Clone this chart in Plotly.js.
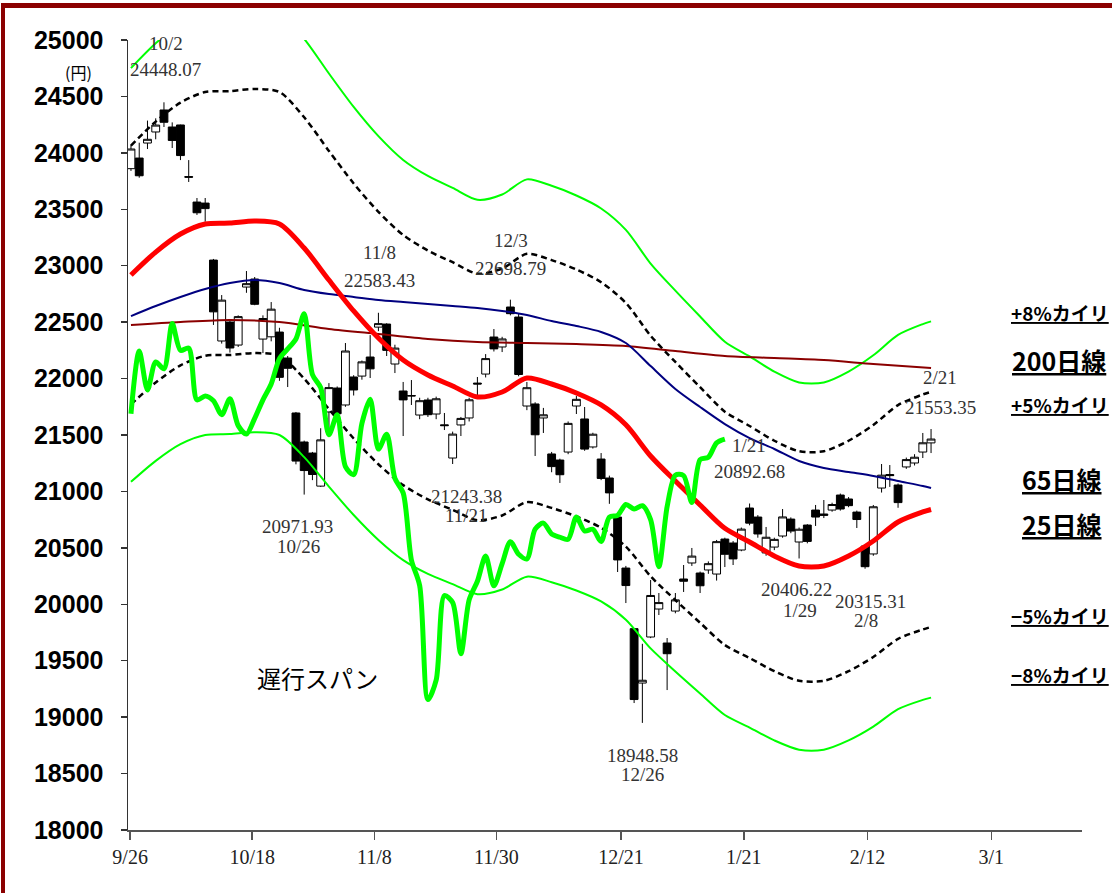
<!DOCTYPE html>
<html>
<head>
<meta charset="utf-8">
<script src="https://cdn.plot.ly/plotly-3.0.1.min.js"></script>
<style>
  html, body { margin: 0; padding: 0; background: #fff; }
  #chart { width: 1112px; height: 893px; }
</style>
</head>
<body>
<div id="chart"></div>
<script>
// ---- Data ----
const dates = ['9/26','9/27','9/28','10/1','10/2','10/3','10/4','10/5','10/9','10/10',
  '10/11','10/12','10/15','10/16','10/17','10/18','10/19','10/22','10/23','10/24',
  '10/25','10/26','10/29','10/30','10/31','11/1','11/2','11/5','11/6','11/7',
  '11/8','11/9','11/12','11/13','11/14','11/15','11/16','11/19','11/20','11/21',
  '11/22','11/26','11/27','11/28','11/29','11/30','12/3','12/4','12/5','12/6',
  '12/7','12/10','12/11','12/12','12/13','12/14','12/17','12/18','12/19','12/20',
  '12/21','12/25','12/26','12/27','12/28','1/4','1/7','1/8','1/9','1/10',
  '1/11','1/15','1/16','1/17','1/18','1/21','1/22','1/23','1/24','1/25',
  '1/28','1/29','1/30','1/31','2/1','2/4','2/5','2/6','2/7','2/8',
  '2/12','2/13','2/14','2/15','2/18','2/19','2/20','2/21'];

const openP = [23860,23954,24087,24185,24380,24229,24247,23790,23564,23555,
  23050,22333,22501,22297,22811,22882,22350,22370,22412,22182,
  21695,21438,21340,21047,21704,21916,21766,22014,22022,22191,
  22456,22483,22129,21890,21850,21677,21810,21686,21590,21296,
  21589,21651,21960,22040,22368,22280,22634,22545,21757,21775,
  21651,21332,21278,21349,21757,21642,21394,21287,21119,20773,
  20321,19784,19302,19710,19958,19657,19940,20224,20366,20277,
  20304,20268,20578,20543,20481,20853,20773,20455,20507,20605,
  20755,20552,20702,20835,20800,20835,20968,20933,20817,20516,
  20446,21030,21150,21057,21217,21252,21349,21430];

const highP = [24070,24090,24286,24306,24448,24270,24250,23936,23600,23600,
  23060,22740,22510,22560,22953,22900,22560,22678,22450,22200,
  21704,21450,21350,21560,21960,21930,22315,22030,22160,22385,
  22583,22490,22300,21970,21987,21830,21830,21840,21695,21530,
  21660,21830,22014,22217,22439,22370,22699,22580,21970,21790,
  21740,21350,21290,21620,21845,21748,21520,21340,21140,20780,
  20340,19790,19650,20215,20100,19701,20100,20348,20499,20290,
  20380,20570,20590,20560,20680,20893,20790,20685,20590,20844,
  20770,20680,20710,20880,20924,20900,20981,20950,20830,20530,
  20880,21243,21234,21070,21300,21330,21518,21553];

const lowP = [23840,23780,24034,24120,24229,24043,23936,23742,23450,23390,
  22475,22310,22230,22280,22760,22650,22226,22330,21980,21925,
  21240,20972,21100,21040,21560,21640,21750,21850,21990,22005,
  22420,22200,22049,21491,21766,21640,21660,21640,21544,21243,
  21491,21620,21837,22010,22240,22235,22560,22020,21720,21314,
  21518,21170,21075,21330,21686,21360,21380,21100,20890,20286,
  20011,19125,18949,19700,19905,19240,19920,20109,20340,20100,
  20270,20210,20330,20348,20470,20700,20590,20430,20480,20590,
  20630,20406,20540,20694,20764,20820,20830,20860,20676,20315,
  20430,20990,21040,20855,21200,21230,21296,21340];

const closeP = [24034,23797,24120,24246,24271,24110,23976,23784,23469,23506,
  22591,22695,22271,22549,22841,22658,22532,22615,22011,22091,
  21269,21185,21150,21457,21920,21688,22244,21899,22148,22086,
  22487,22250,22270,21811,21846,21804,21680,21821,21583,21508,
  21647,21812,21952,22177,22263,22351,22575,22036,21919,21502,
  21679,21220,21148,21603,21816,21375,21507,21115,20987,20393,
  20166,19156,19327,20078,20015,19562,20039,20204,20427,20164,
  20360,20555,20443,20402,20666,20719,20623,20594,20575,20774,
  20649,20665,20557,20773,20788,20884,20844,20874,20751,20333,
  20864,21144,21140,20901,21282,21303,21431,21464];

// moving averages, sampled at these day indices
const maIdx = [0,3,6,9,12,15,18,21,24,27,30,33,36,39,42,45,48,51,54,57,60,63,66,69,72,75,78,81,84,87,90,93,96,97];
const ma25 = [22918,23121,23281,23370,23378,23396,23370,23157,22873,22599,22359,22164,22032,21934,21837,21881,22005,21952,21872,21766,21590,21314,21092,20880,20673,20552,20428,20339,20339,20428,20561,20729,20818,20840];
const ma65 = [22554,22643,22723,22794,22847,22873,22847,22785,22749,22723,22696,22678,22661,22643,22625,22599,22563,22510,22466,22413,22315,22111,21908,21748,21597,21473,21376,21270,21208,21172,21137,21092,21048,21030];
const up5 = [24064,24277,24445,24539,24547,24566,24539,24315,24017,23729,23477,23272,23134,23031,22929,22975,23105,23050,22966,22854,22670,22380,22147,21924,21707,21580,21449,21356,21356,21449,21589,21765,21859,21882];
const dn5 = [21772,21965,22117,22202,22209,22226,22202,21999,21729,21469,21241,21056,20930,20837,20745,20787,20905,20854,20778,20678,20511,20248,20037,19836,19639,19524,19407,19322,19322,19407,19533,19693,19777,19798];
const up8 = [24751,24971,25143,25240,25248,25268,25240,25010,24703,24407,24148,23937,23795,23689,23584,23631,23765,23708,23622,23507,23317,23019,22779,22550,22327,22196,22062,21966,21966,22062,22206,22387,22483,22507];
const dn8 = [21085,21271,21419,21500,21508,21524,21500,21304,21043,20791,20570,20391,20269,20179,20090,20131,20245,20196,20122,20025,19863,19609,19405,19210,19019,18908,18794,18712,18712,18794,18916,19071,19153,19173];
const ma200Idx = [0,6,12,18,24,30,36,42,48,54,60,66,72,78,84,90,97];
const ma200 = [22475,22501,22519,22501,22439,22395,22351,22324,22315,22306,22289,22244,22200,22182,22164,22129,22094];

const lagShift = 25; // 遅行スパン: close plotted 25 days back

const xTickLabels = ['9/26','10/18','11/8','11/30','12/21','1/21','2/12','3/1'];
const yTicks = [18000,18500,19000,19500,20000,20500,21000,21500,22000,22500,23000,23500,24000,24500,25000];

// ---- Build traces ----
const dayIdx = dates.map((d, i) => i);

const traces = [];
traces.push({
  type: 'candlestick', x: dayIdx, open: openP, high: highP, low: lowP, close: closeP,
  increasing: { line: { color: '#000', width: 1 }, fillcolor: '#fff' },
  decreasing: { line: { color: '#000', width: 1 }, fillcolor: '#000' },
  whiskerwidth: 0, hoverinfo: 'skip', showlegend: false
});
function line(x, y, color, width, dash) {
  return { type: 'scatter', mode: 'lines', x: x, y: y, hoverinfo: 'skip', showlegend: false,
    line: { color: color, width: width, dash: dash || 'solid', shape: 'spline', smoothing: 0.8 } };
}
traces.push(line(maIdx, up8, '#00FF00', 2));
traces.push(line(maIdx, dn8, '#00FF00', 2));
traces.push(line(maIdx, up5, '#000000', 2.5, '6px,4px'));
traces.push(line(maIdx, dn5, '#000000', 2.5, '6px,4px'));
traces.push(line(ma200Idx, ma200, '#8B0000', 2));
traces.push(line(maIdx, ma65, '#000080', 2));
traces.push(line(maIdx, ma25, '#FF0000', 5));
traces.push(line(dayIdx.slice(0, closeP.length - lagShift), closeP.slice(lagShift), '#00FF00', 5));

// ---- Layout helpers (pixel -> paper) ----
const L = 128, R = 1082, T = 40, B = 830;
const px = x => (x - L) / (R - L);
const py = y => (B - y) / (B - T);

const serif = { family: 'Liberation Serif, DejaVu Serif, serif', size: 19, color: '#333' };
function note(text, x, y, font) {
  return { text: text, xref: 'paper', yref: 'paper', x: px(x), y: py(y),
    xanchor: 'center', yanchor: 'middle', showarrow: false, font: font || serif };
}
const labFont = { family: 'Noto Sans CJK JP, sans-serif', size: 19, color: '#000', weight: 'bold' };
const labFont2 = { family: 'Noto Sans CJK JP, sans-serif', size: 25, color: '#000', weight: 'bold' };

const annotations = [
  note('10/2', 166, 43), note('24448.07', 165, 70),
  note('11/8', 379, 252), note('22583.43', 379, 280),
  note('12/3', 511, 240), note('22698.79', 510, 268),
  note('20971.93', 297, 526), note('10/26', 298, 546),
  note('21243.38', 466, 496), note('11/21', 466, 515),
  note('18948.58', 642, 755), note('12/26', 642, 774),
  note('1/21', 749, 445), note('20892.68', 749, 471),
  note('20406.22', 796, 589), note('1/29', 800, 610),
  note('20315.31', 870, 601), note('2/8', 866, 620),
  note('2/21', 940, 378), note('21553.35', 940, 407),
  note('遅行スパン', 317, 677, { family: 'Noto Sans CJK JP, sans-serif', size: 24, color: '#000' }),
  note('(円)', 78, 72, { family: 'Noto Sans CJK JP, sans-serif', size: 16, color: '#000' }),
  note('<u>+8%カイリ</u>', 1060, 313, labFont),
  note('<u>200日線</u>', 1059, 360, labFont2),
  note('<u>+5%カイリ</u>', 1060, 404, labFont),
  note('<u>65日線</u>', 1062, 479, labFont2),
  note('<u>25日線</u>', 1062, 524, labFont2),
  note('<u>−5%カイリ</u>', 1060, 615, labFont),
  note('<u>−8%カイリ</u>', 1060, 674, labFont)
];

const frame = '#8B0000';
const shapes = [
  { type: 'rect', xref: 'paper', yref: 'paper', x0: px(1), x1: px(5), y0: py(893), y1: py(3),
    fillcolor: frame, line: { width: 0 } },
  { type: 'rect', xref: 'paper', yref: 'paper', x0: px(1), x1: px(1112), y0: py(8), y1: py(3),
    fillcolor: frame, line: { width: 0 } }
];

const layout = {
  width: 1112, height: 893,
  margin: { l: L, r: 1112 - R, t: T, b: 893 - B },
  paper_bgcolor: '#fff', plot_bgcolor: '#fff',
  showlegend: false, hovermode: false, boxgap: 0.05, boxgroupgap: 0,
  xaxis: {
    type: 'linear', range: [-0.36, 115.3], rangeslider: { visible: false },
    tickmode: 'array', tickvals: [-0.1, 14.7, 29.5, 44.3, 59.4, 74.3, 89.3, 104.3], ticktext: xTickLabels,
    ticks: 'outside', ticklen: 8, tickwidth: 1.5, tickcolor: '#555',
    showline: true, linecolor: '#555', linewidth: 1.5, showgrid: false, zeroline: false,
    tickfont: { family: 'Liberation Serif, DejaVu Serif, serif', size: 20, color: '#222' }
  },
  yaxis: {
    range: [18000, 25000], tickmode: 'array', tickvals: yTicks, ticktext: yTicks.map(String),
    ticks: 'outside', ticklen: 6, tickwidth: 1.5, tickcolor: '#333',
    showline: true, linecolor: '#333', linewidth: 1.5, showgrid: false, zeroline: false,
    ticklabelstandoff: 12,
    tickfont: { family: 'Liberation Sans, Arial, sans-serif', size: 25, color: '#000', weight: 'bold' }
  },
  annotations: annotations,
  shapes: shapes
};

Plotly.newPlot('chart', traces, layout, { displayModeBar: false, staticPlot: true });
</script>
</body>
</html>
